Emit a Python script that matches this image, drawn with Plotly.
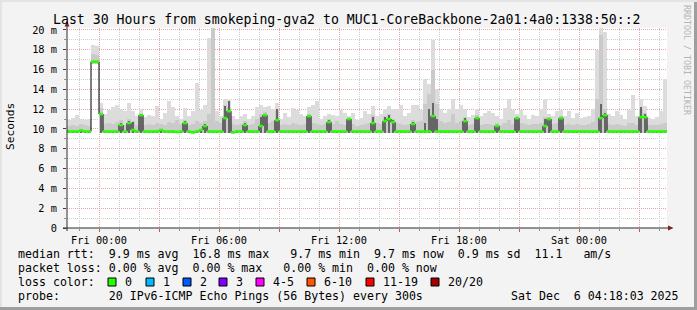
import plotly.graph_objects as go

# ---------------- data (hours relative to Fri 00:00, one column per 12 min) -------------
T0 = -1.6
STEP = 0.2

MEDIAN = [
    9.75, 9.75, 9.75, 9.85, 9.75, 9.75, 16.8, 16.8, 11.5, 9.75,
    9.75, 9.75, 9.75, 10.4, 9.75, 10.6, 9.9, 9.75, 11.4, 9.75,
    9.75, 9.75, 9.75, 9.9, 9.75, 9.75, 9.75, 9.7, 9.75, 10.6,
    9.75, 9.65, 9.75, 9.9, 10.3, 9.75, 9.75, 9.75, 9.75, 11.1,
    11.8, 9.65, 9.75, 9.75, 10.4, 9.75, 9.75, 9.75, 10.3, 11.4,
    9.75, 9.75, 10.9, 9.75, 9.75, 9.75, 9.75, 9.75, 9.75, 9.75,
    11.3, 9.75, 9.75, 9.75, 9.75, 10.7, 9.75, 9.75, 9.75, 9.75,
    11.0, 9.75, 9.75, 9.75, 9.75, 9.75, 10.6, 9.75, 9.75, 10.8,
    11.0, 10.7, 9.75, 9.75, 9.75, 9.75, 10.5, 9.75, 9.75, 9.75,
    9.75, 11.3, 9.75, 9.75, 9.75, 9.75, 9.75, 9.75, 9.75, 10.8,
    9.75, 9.75, 11.1, 9.75, 9.75, 9.75, 9.75, 10.3, 9.75, 9.75,
    9.75, 9.75, 11.1, 9.75, 9.75, 9.75, 9.75, 9.75, 9.75, 10.3,
    11.0, 9.75, 9.75, 11.1, 9.75, 9.75, 9.75, 9.75, 9.75, 9.75,
    9.75, 9.75, 9.75, 11.1, 11.4, 9.75, 9.75, 9.75, 9.75, 9.75,
    9.75, 9.75, 9.75, 11.2, 11.2, 9.75, 9.75, 9.75, 9.75, 9.75,
]

SMOKE_HI = [
    10.9, 11.1, 11.4, 11.0, 10.9, 11.0, 18.5, 18.4, 12.6, 11.5,
    11.9, 12.2, 12.4, 12.0, 11.8, 12.6, 11.8, 11.3, 12.0, 11.2,
    11.4, 11.3, 12.3, 11.0, 11.6, 12.8, 12.2, 11.3, 11.0, 12.1,
    11.3, 11.8, 14.6, 11.9, 12.4, 19.2, 20.3, 11.8, 11.3, 13.0,
    12.9, 11.3, 11.0, 11.3, 11.5, 11.0, 11.3, 12.2, 12.4, 12.2,
    12.3, 12.0, 12.6, 11.0, 11.6, 11.2, 12.1, 11.9, 11.5, 11.3,
    12.2, 12.4, 12.8, 11.0, 11.3, 11.5, 11.4, 11.3, 11.9, 11.6,
    11.3, 11.6, 10.9, 11.1, 11.8, 11.5, 12.3, 11.3, 11.5, 12.0,
    12.3, 12.0, 12.0, 12.4, 11.3, 11.6, 12.4, 12.4, 11.9, 15.1,
    14.5, 19.0, 14.0, 12.0, 11.6, 12.0, 13.0, 12.0, 12.4, 12.0,
    11.2, 11.4, 12.0, 11.3, 11.6, 11.8, 11.6, 11.3, 11.0, 12.1,
    13.0, 11.9, 11.5, 11.9, 11.4, 11.0, 11.4, 11.3, 12.0, 13.0,
    11.5, 11.3, 11.8, 11.9, 11.3, 11.8, 11.1, 11.6, 11.1, 11.2,
    11.3, 12.0, 18.0, 20.3, 19.8, 11.5, 11.3, 11.8, 11.4, 11.0,
    11.9, 13.4, 11.3, 13.0, 12.3, 11.1, 11.0, 11.2, 11.8, 15.0,
]

SMOKE_MID = [
    10.3, 10.4, 10.3, 10.5, 10.4, 10.3, 17.6, 17.5, 12.1, 10.5,
    10.6, 10.5, 10.7, 10.9, 10.4, 11.0, 10.8, 10.4, 11.5, 10.4,
    10.5, 10.4, 10.6, 10.5, 10.4, 10.7, 10.6, 10.9, 10.5, 10.9,
    10.4, 10.5, 10.8, 10.6, 10.8, 11.5, 20.3, 10.8, 10.6, 12.4,
    12.2, 10.5, 10.4, 10.5, 10.8, 10.4, 10.5, 11.0, 11.5, 11.7,
    10.6, 10.8, 11.8, 10.4, 10.5, 10.4, 10.6, 10.5, 10.4, 10.5,
    11.5, 10.6, 10.5, 10.4, 10.5, 11.0, 10.5, 10.8, 10.5, 10.4,
    11.1, 10.5, 10.3, 10.4, 10.5, 10.6, 11.4, 10.6, 10.5, 11.3,
    11.5, 11.0, 10.6, 10.5, 10.4, 10.5, 10.9, 10.7, 10.8, 12.5,
    13.5, 16.0, 12.5, 10.8, 10.6, 10.7, 11.5, 10.6, 10.8, 11.2,
    10.4, 10.5, 11.4, 10.4, 10.5, 10.5, 10.4, 10.6, 10.4, 10.6,
    10.9, 10.5, 11.2, 10.6, 10.5, 10.4, 10.5, 10.5, 10.6, 11.2,
    11.2, 10.5, 10.6, 11.3, 10.4, 10.5, 10.4, 10.5, 10.4, 10.4,
    10.5, 10.7, 13.0, 19.5, 12.0, 10.5, 10.4, 10.5, 10.4, 10.3,
    10.6, 10.6, 10.4, 12.0, 11.6, 10.4, 10.4, 10.4, 10.5, 10.6,
]

SMOKE_DARK = [
    9.75, 9.75, 9.75, 9.75, 9.75, 9.75, 9.75, 9.75, 11.6, 9.75,
    9.75, 9.75, 9.75, 10.6, 9.75, 10.8, 10.7, 9.75, 11.4, 9.75,
    9.75, 9.75, 9.75, 9.75, 9.75, 9.75, 9.75, 9.75, 9.75, 10.8,
    9.75, 9.75, 9.75, 9.75, 10.5, 9.75, 9.75, 9.75, 9.75, 12.3,
    12.8, 9.75, 9.75, 9.75, 10.6, 9.75, 9.75, 9.75, 11.2, 11.5,
    9.75, 9.75, 12.0, 9.75, 9.75, 9.75, 9.75, 9.75, 9.75, 9.75,
    11.4, 9.75, 9.75, 9.75, 9.75, 10.9, 9.75, 9.75, 9.75, 9.75,
    11.1, 9.75, 9.75, 9.75, 9.75, 9.75, 11.2, 9.75, 9.75, 11.2,
    11.4, 10.9, 9.75, 9.75, 9.75, 9.75, 10.7, 9.75, 9.75, 10.6,
    12.0, 12.6, 11.0, 9.75, 9.75, 9.75, 9.75, 9.75, 9.75, 11.1,
    9.75, 9.75, 11.2, 9.75, 9.75, 9.75, 9.75, 10.4, 9.75, 9.75,
    9.75, 9.75, 11.2, 9.75, 9.75, 9.75, 9.75, 9.75, 9.75, 11.0,
    11.1, 9.75, 9.75, 11.2, 9.75, 9.75, 9.75, 9.75, 9.75, 9.75,
    9.75, 9.75, 9.75, 12.5, 11.6, 9.75, 9.75, 9.75, 9.75, 9.75,
    9.75, 9.75, 9.75, 12.2, 11.5, 9.75, 9.75, 9.75, 9.75, 9.75,
]

SMOKE_LO = [
    9.6, 9.6, 9.6, 9.6, 9.6, 9.6, 16.6, 16.6, 9.6, 9.6,
    9.6, 9.6, 9.6, 9.6, 9.6, 9.6, 9.6, 9.6, 9.6, 9.6,
    9.6, 9.6, 9.6, 9.6, 9.6, 9.6, 9.6, 9.6, 9.6, 9.6,
    9.6, 9.6, 9.6, 9.6, 9.6, 9.6, 9.6, 9.6, 9.6, 9.6,
    9.6, 9.6, 9.6, 9.6, 9.6, 9.6, 9.6, 9.6, 9.6, 9.6,
    9.6, 9.6, 9.6, 9.6, 9.6, 9.6, 9.6, 9.6, 9.6, 9.6,
    9.6, 9.6, 9.6, 9.6, 9.6, 9.6, 9.6, 9.6, 9.6, 9.6,
    9.6, 9.6, 9.6, 9.6, 9.6, 9.6, 9.6, 9.6, 9.6, 9.6,
    9.6, 9.6, 9.6, 9.6, 9.6, 9.6, 9.6, 9.6, 9.6, 9.6,
    9.6, 9.6, 9.6, 9.6, 9.6, 9.6, 9.6, 9.6, 9.6, 9.6,
    9.6, 9.6, 9.6, 9.6, 9.6, 9.6, 9.6, 9.6, 9.6, 9.6,
    9.6, 9.6, 9.6, 9.6, 9.6, 9.6, 9.6, 9.6, 9.6, 9.6,
    9.6, 9.6, 9.6, 9.6, 9.6, 9.6, 9.6, 9.6, 9.6, 9.6,
    9.6, 9.6, 9.6, 9.6, 9.6, 9.6, 9.6, 9.6, 9.6, 9.6,
    9.6, 9.6, 9.6, 9.6, 9.6, 9.6, 9.6, 9.6, 9.6, 9.6,
]

X_TICKS = [0, 3, 6, 9, 12, 15, 18, 21, 24, 27]
X_LABELS = ["Fri 00:00", "", "Fri 06:00", "", "Fri 12:00", "", "Fri 18:00", "", "Sat 00:00", ""]
X_MINOR = [-1, 1, 2, 4, 5, 7, 8, 10, 11, 13, 14, 16, 17, 19, 20, 22, 23, 25, 26, 28]
Y_TICKS = [0, 2, 4, 6, 8, 10, 12, 14, 16, 18, 20]
Y_LABELS = ["0", "2 m", "4 m", "6 m", "8 m", "10 m", "12 m", "14 m", "16 m", "18 m", "20 m"]
Y_MINOR = [1, 3, 5, 7, 9, 11, 13, 15, 17, 19]

LOSS_LABELS = ["0", "1", "2", "3", "4-5", "6-10", "11-19", "20/20"]
LOSS_COLORS = ["#26ff00", "#00b8ff", "#0059ff", "#7e00ff", "#ff00ff", "#ff5500", "#ff0000", "#a10000"]

TITLE = "Last 30 Hours from smokeping-gva2 to MUC1-CoreBackbone-2a01:4a0:1338:50::2"
ROW1 = "median rtt:  9.9 ms avg  16.8 ms max   9.7 ms min  9.7 ms now  0.9 ms sd  11.1   am/s"
ROW2 = "packet loss: 0.00 % avg  0.00 % max   0.00 % min  0.00 % now"
ROW3 = "loss color:"
ROW4 = "probe:       20 IPv6-ICMP Echo Pings (56 Bytes) every 300s"
DATE = "Sat Dec  6 04:18:03 2025"

# ---------------- layout geometry -------------
W, H = 697, 310
L, R, T, B = 67, 30, 28, 82
PW, PH = W - L - R, H - T - B
MONO = "DejaVu Sans Mono"


def px(x):
    return (x - L) / PW


def py(y):
    return (T + PH - y) / PH


def nb(s):
    return s.replace(" ", "\u00a0")


n = len(MEDIAN)
starts = [T0 + STEP * i for i in range(n)]
end = T0 + STEP * n

fig = go.Figure()

# smoke layers: (values, colour, relative bar width)
for vals, col, frac in [(SMOKE_HI, "#dcdcdc", 1.0), (SMOKE_MID, "#cacaca", 1.0), (SMOKE_DARK, "#666666", 0.5)]:
    fig.add_trace(go.Bar(
        x=starts, y=[max(v - lo, 0) for v, lo in zip(vals, SMOKE_LO)], base=SMOKE_LO,
        width=STEP * frac, offset=STEP * (1 - frac) / 2,
        marker=dict(color=col, line=dict(width=0)),
        hoverinfo="skip", showlegend=False))

# thin dark median line
fig.add_trace(go.Scatter(
    x=starts + [end], y=MEDIAN + [MEDIAN[-1]], mode="lines", line_shape="hv",
    line=dict(color="#000000", width=1), hoverinfo="skip", showlegend=False))

# loss-coloured median segments
gx, gy = [], []
for i, m in enumerate(MEDIAN):
    gx += [starts[i], starts[i] + STEP, None]
    gy += [m, m, None]
fig.add_trace(go.Scatter(
    x=gx, y=gy, mode="lines", line=dict(color=LOSS_COLORS[0], width=2.6),
    hoverinfo="skip", showlegend=False))

MGRID = "#e9a6a6"
GRID = "#cfcfcf"

fig.update_layout(
    width=W, height=H, autosize=False,
    margin=dict(l=L, r=R, t=T, b=B, pad=0),
    paper_bgcolor="#f3f3f3", plot_bgcolor="#ffffff",
    barmode="overlay", bargap=0,
    font=dict(family=MONO, color="#000000"),
    xaxis=dict(
        range=[T0, end], tickmode="array", tickvals=X_TICKS, ticktext=X_LABELS,
        showgrid=True, gridcolor=MGRID, griddash="1px,1px", gridwidth=1,
        ticks="outside", ticklen=3, tickcolor="#d05050", tickwidth=1,
        tickfont=dict(family=MONO, size=10.3), zeroline=False, showline=False,
        minor=dict(tickmode="array", tickvals=X_MINOR, showgrid=True, gridcolor=GRID,
                   griddash="1px,1px", gridwidth=1, ticks="outside", ticklen=2,
                   tickcolor="#909090"),
        fixedrange=True),
    yaxis=dict(
        range=[0, 20.2], tickmode="array", tickvals=Y_TICKS, ticktext=Y_LABELS,
        showgrid=True, gridcolor=MGRID, griddash="1px,1px", gridwidth=1,
        ticks="outside", ticklen=3, tickcolor="#404040", tickwidth=1,
        tickfont=dict(family=MONO, size=10.3), zeroline=False, showline=False,
        ticklabelstandoff=4,
        minor=dict(tickmode="array", tickvals=Y_MINOR, showgrid=True, gridcolor=GRID,
                   griddash="1px,1px", gridwidth=1, ticks="outside", ticklen=2,
                   tickcolor="#909090"),
        fixedrange=True),
)

shapes = []
AX = "#2a2a2a"
ARROW = "#7f1f1f"
# axes lines
shapes.append(dict(type="line", xref="paper", yref="paper", x0=px(63), x1=px(669), y0=py(228), y1=py(228),
                   line=dict(color=AX, width=1)))
shapes.append(dict(type="line", xref="paper", yref="paper", x0=px(67), x1=px(67), y0=py(231), y1=py(25),
                   line=dict(color=AX, width=1)))
# arrows
shapes.append(dict(type="path", xref="paper", yref="paper",
                   path=f"M {px(668)} {py(225.5)} L {px(673.5)} {py(228)} L {px(668)} {py(230.5)} Z",
                   fillcolor=ARROW, line=dict(color=ARROW, width=0)))
shapes.append(dict(type="path", xref="paper", yref="paper",
                   path=f"M {px(64.5)} {py(26.5)} L {px(67)} {py(21)} L {px(69.5)} {py(26.5)} Z",
                   fillcolor=ARROW, line=dict(color=ARROW, width=0)))
# frame shading
shapes.append(dict(type="rect", xref="paper", yref="paper", x0=px(0), x1=px(697), y0=py(307), y1=py(310),
                   fillcolor="#9e9e9e", line=dict(width=0), layer="above"))
shapes.append(dict(type="rect", xref="paper", yref="paper", x0=px(694), x1=px(697), y0=py(0), y1=py(310),
                   fillcolor="#9e9e9e", line=dict(width=0), layer="above"))
shapes.append(dict(type="rect", xref="paper", yref="paper", x0=px(0), x1=px(697), y0=py(0), y1=py(2),
                   fillcolor="#e4e4e4", line=dict(width=0), layer="above"))
shapes.append(dict(type="rect", xref="paper", yref="paper", x0=px(0), x1=px(2), y0=py(0), y1=py(307),
                   fillcolor="#e4e4e4", line=dict(width=0), layer="above"))

# legend colour boxes
BOX_X = [108, 146, 183, 219, 256, 307, 366, 431]
annotations = []
for bx, lab, colr in zip(BOX_X, LOSS_LABELS, LOSS_COLORS):
    shapes.append(dict(type="rect", xref="paper", yref="paper", x0=px(bx), x1=px(bx + 8),
                       y0=py(286), y1=py(278), fillcolor=colr, line=dict(color="#000000", width=1)))
    annotations.append(dict(x=px(bx + 15), y=py(282), text=nb(lab)))

annotations += [
    dict(x=px(16), y=py(254), text=nb(ROW1)),
    dict(x=px(16), y=py(268), text=nb(ROW2)),
    dict(x=px(16), y=py(282), text=nb(ROW3)),
    dict(x=px(16), y=py(296), text=nb(ROW4)),
    dict(x=px(680.5), y=py(296), text=nb(DATE), xanchor="right"),
]
for a in annotations:
    a.setdefault("xanchor", "left")
    a.update(xref="paper", yref="paper", yanchor="middle", showarrow=False,
             font=dict(family=MONO, size=11.6, color="#000000"))

annotations.append(dict(x=px(347), y=py(19), xref="paper", yref="paper", text=nb(TITLE),
                        showarrow=False, xanchor="center", yanchor="middle",
                        font=dict(family=MONO, size=13.2, color="#000000")))
annotations.append(dict(x=px(10), y=py(127), xref="paper", yref="paper", text="Seconds",
                        showarrow=False, xanchor="center", yanchor="middle", textangle=-90,
                        font=dict(family=MONO, size=11.2, color="#000000")))
annotations.append(dict(x=px(687), y=py(60), xref="paper", yref="paper", text=nb("RRDTOOL / TOBI OETIKER"),
                        showarrow=False, xanchor="center", yanchor="middle", textangle=90,
                        font=dict(family=MONO, size=8.3, color="#b4b4b4")))

fig.update_layout(shapes=shapes, annotations=annotations)
fig.write_html("out.html", config={"displayModeBar": False})
